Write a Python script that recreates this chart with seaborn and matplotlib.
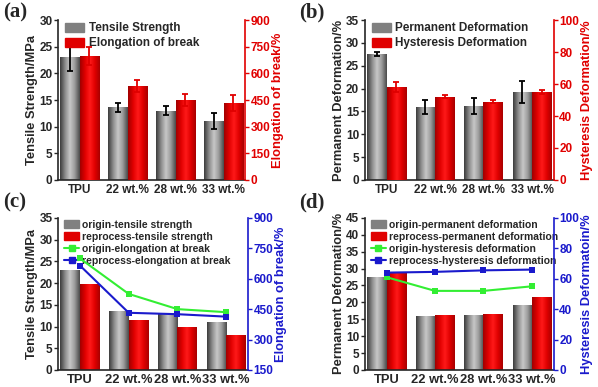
import numpy as np
import pandas as pd
import matplotlib
matplotlib.use("Agg")
import matplotlib.pyplot as plt
import seaborn as sns
from matplotlib.patches import Patch
from matplotlib.lines import Line2D

# category labels
samples = ["TPU", "22 wt.%", "28 wt.%", "33 wt.%"]

# (a) tensile strength / elongation of break
tensile = [23.0, 13.6, 13.0, 11.0]
tensile_err = [2.5, 0.8, 0.8, 1.5]
elongation = [700, 530, 450, 435]
elongation_err = [50, 35, 35, 45]

# (b) permanent / hysteresis deformation
permanent = [27.6, 16.0, 16.2, 19.3]
permanent_err = [0.4, 1.5, 1.7, 2.4]
hysteresis = [58.0, 52.0, 49.0, 55.0]
hysteresis_err = [3.0, 1.0, 1.0, 1.0]

# (c) origin vs reprocessed
tensile_origin = [23.0, 13.6, 13.0, 11.0]
tensile_reproc = [19.7, 11.5, 10.0, 8.0]
elong_origin = [700, 525, 450, 435]
elong_reproc = [665, 432, 425, 413]

# (d) origin vs reprocessed
perm_origin = [27.6, 16.0, 16.4, 19.2]
perm_reproc = [29.0, 16.2, 16.7, 21.7]
hyst_origin = [61, 52, 52, 55]
hyst_reproc = [64, 64.5, 65.5, 66]

sns.set_style("ticks")
plt.rcParams["font.family"] = ["Liberation Sans", "DejaVu Sans"]
plt.rcParams["font.weight"] = "bold"
plt.rcParams["axes.labelweight"] = "bold"

GRAY_GRAD = ["#3c3c3c", "#8a8a8a", "#c8c8c8", "#9a9a9a", "#4a4a4a"]
RED_GRAD = ["#a00000", "#e00000", "#ff1a1a", "#e00000", "#a80000"]
GREEN = "#33ee33"
BLUE = "#1a1acc"


def shade(ax, patches, colors):
    cmap = matplotlib.colors.LinearSegmentedColormap.from_list("g", colors)
    grad = np.linspace(0, 1, 64).reshape(1, -1)
    for p in patches:
        x0, y0 = p.get_x(), p.get_y()
        w, h = p.get_width(), p.get_height()
        im = ax.imshow(grad, cmap=cmap, aspect="auto", extent=(x0, x0 + w, y0, y0 + h),
                       zorder=p.get_zorder() + 0.1, interpolation="bilinear")
        im.set_clip_path(p)


def bars(ax, values, slot, color):
    n_before = len(ax.patches)
    labels = ["a", "b"] if slot == 0 else ["b", "a"]
    df = pd.DataFrame({"x": samples * 2,
                       "y": list(values) + [np.nan] * 4,
                       "s": [labels[0]] * 4 + [labels[1]] * 4})
    sns.barplot(data=df, x="x", y="y", hue="s", hue_order=["a", "b"], order=samples,
                palette=[color, color], width=0.8, errorbar=None, legend=False,
                ax=ax, linewidth=0, saturation=1)
    new = list(ax.patches)[n_before:]
    return [p for p in new if np.isfinite(p.get_height()) and p.get_height() > 0]


def errs(ax, patches, values, err, color):
    xs = [p.get_x() + p.get_width() / 2 for p in patches]
    ax.errorbar(xs, values, yerr=err, fmt="none", ecolor=color, elinewidth=1.3,
                capsize=2.5, capthick=1.3, zorder=5)


def style(ax, ax2, ylabel, y2label, c2, ylim, yticks, y2lim, y2ticks, fs_x=8.5):
    ax.set_xlim(-0.45, 3.45)
    ax.set_ylim(*ylim)
    ax.set_yticks(yticks)
    ax2.set_ylim(*y2lim)
    ax2.set_yticks(y2ticks)
    ax.set_xlabel("")
    ax.set_ylabel(ylabel, fontsize=9.3, labelpad=1)
    ax2.set_ylabel(y2label, fontsize=9.3, color=c2, labelpad=1)
    ax2.set_xlabel("")
    for a in (ax, ax2):
        a.spines["top"].set_visible(False)
    ax.spines["right"].set_visible(False)
    ax2.spines["left"].set_visible(False)
    ax2.spines["bottom"].set_visible(False)
    ax2.spines["right"].set_color(c2)
    ax2.spines["right"].set_linewidth(1.2)
    ax.spines["left"].set_linewidth(1.2)
    ax.spines["bottom"].set_linewidth(1.2)
    ax.tick_params(axis="y", labelsize=8.5, length=3, width=1, pad=1)
    ax.tick_params(axis="x", labelsize=fs_x, length=0, pad=3)
    ax2.tick_params(axis="y", labelsize=8.5, length=3, width=1, colors=c2, pad=1)
    for t in ax.get_xticklabels() + ax.get_yticklabels() + ax2.get_yticklabels():
        t.set_fontweight("bold")


def legend2(ax, labels):
    ax.legend([Patch(color="#808080"), Patch(color="#e00000")], labels, loc="upper left",
              bbox_to_anchor=(0.0, 1.03), frameon=False, prop={"size": 8.5, "weight": "bold"},
              handlelength=1.6, handleheight=0.8, handletextpad=0.4, labelspacing=0.25,
              borderaxespad=0.2)


def lines(ax2, origin, reproc):
    df = pd.DataFrame({"x": samples * 2, "y": list(origin) + list(reproc),
                       "s": ["o"] * 4 + ["r"] * 4})
    sns.lineplot(data=df, x="x", y="y", hue="s", palette=[GREEN, BLUE], marker="s",
                 markersize=5, markeredgewidth=0, linewidth=1.5, legend=False, ax=ax2,
                 sort=False)


def legend4(ax, labels):
    hs = [Patch(color="#808080"), Patch(color="#e00000"),
          Line2D([], [], color=GREEN, marker="s", markersize=4, lw=1.5),
          Line2D([], [], color=BLUE, marker="s", markersize=4, lw=1.5)]
    ax.legend(hs, labels, loc="upper left", bbox_to_anchor=(0.0, 1.03), frameon=False,
              prop={"size": 7.5, "weight": "bold"}, handlelength=1.4, handleheight=0.7,
              handletextpad=0.3, labelspacing=0.2, borderaxespad=0.2)


fig = plt.figure(figsize=(5.98, 3.87), dpi=100)
pos = {"a": [0.097, 0.535, 0.313, 0.413], "b": [0.610, 0.535, 0.316, 0.413],
       "c": [0.097, 0.044, 0.318, 0.393], "d": [0.610, 0.044, 0.316, 0.393]}

# ---- (a)
ax = fig.add_axes(pos["a"])
ax2 = ax.twinx()
p1 = bars(ax, tensile, 0, "#808080")
p2 = bars(ax2, elongation, 1, "#e00000")
shade(ax, p1, GRAY_GRAD)
shade(ax2, p2, RED_GRAD)
errs(ax, p1, tensile, tensile_err, "black")
errs(ax2, p2, elongation, elongation_err, "#e00000")
style(ax, ax2, "Tensile Strength/MPa", "Elongation of break/%", "#e00000",
      (0, 30), range(0, 31, 5), (0, 900), range(0, 901, 150))
legend2(ax, ["Tensile Strength", "Elongation of break"])

# ---- (b)
ax = fig.add_axes(pos["b"])
ax2 = ax.twinx()
p1 = bars(ax, permanent, 0, "#808080")
p2 = bars(ax2, hysteresis, 1, "#e00000")
shade(ax, p1, GRAY_GRAD)
shade(ax2, p2, RED_GRAD)
errs(ax, p1, permanent, permanent_err, "black")
errs(ax2, p2, hysteresis, hysteresis_err, "#e00000")
style(ax, ax2, "Permanent Deformation/%", "Hysteresis Deformation/%", "#e00000",
      (0, 35), range(0, 36, 5), (0, 100), range(0, 101, 20))
legend2(ax, ["Permanent Deformation", "Hysteresis Deformation"])

# ---- (c)
ax = fig.add_axes(pos["c"])
ax2 = ax.twinx()
p1 = bars(ax, tensile_origin, 0, "#808080")
p2 = bars(ax, tensile_reproc, 1, "#e00000")
shade(ax, p1, GRAY_GRAD)
shade(ax, p2, RED_GRAD)
lines(ax2, elong_origin, elong_reproc)
style(ax, ax2, "Tensile Strength/MPa", "Elongation of break/%", BLUE,
      (0, 35), range(0, 36, 5), (150, 900), range(150, 901, 150), fs_x=9.3)
legend4(ax, ["origin-tensile strength", "reprocess-tensile strength",
             "origin-elongation at break", "reprocess-elongation at break"])

# ---- (d)
ax = fig.add_axes(pos["d"])
ax2 = ax.twinx()
p1 = bars(ax, perm_origin, 0, "#808080")
p2 = bars(ax, perm_reproc, 1, "#e00000")
shade(ax, p1, GRAY_GRAD)
shade(ax, p2, RED_GRAD)
lines(ax2, hyst_origin, hyst_reproc)
style(ax, ax2, "Permanent Deformation/%", "Hysteresis Deformatoin/%", BLUE,
      (0, 45), range(0, 46, 5), (0, 100), range(0, 101, 20), fs_x=9.3)
legend4(ax, ["origin-permanent deformation", "reprocess-permanent deformation",
             "origin-hysteresis deformation", "reprocess-hysteresis deformation"])

# panel letters
for lbl, x, y in [("(a)", 0.005, 0.955), ("(b)", 0.5, 0.955),
                  ("(c)", 0.005, 0.465), ("(d)", 0.5, 0.465)]:
    fig.text(x, y, lbl, fontsize=15, fontweight="bold", family="Liberation Serif")

fig.savefig("out.png", dpi=100)
